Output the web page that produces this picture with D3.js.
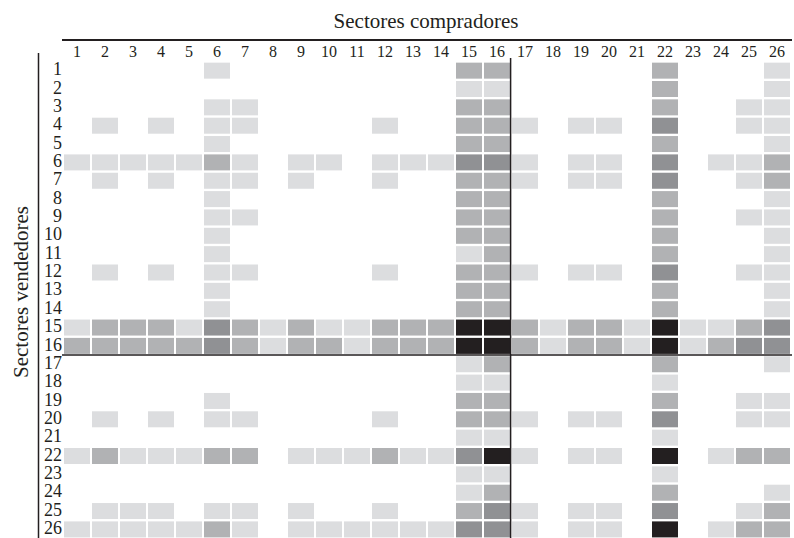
<!DOCTYPE html>
<html>
<head>
<meta charset="utf-8">
<script src="https://cdn.jsdelivr.net/npm/d3@7"></script>
<style>
  html, body { margin: 0; padding: 0; background: #ffffff; }
  svg { display: block; }
  text { font-family: "Liberation Serif", "Times New Roman", serif; fill: #231f20; }
</style>
</head>
<body>
<svg id="chart" width="794" height="538"></svg>
<script>
// Sector labels (1..26)
const sectors = d3.range(1, 27);

// Intensity level of each seller(row) -> buyer(column) flow: 0 none, 1 light, 2 medium, 3 dark, 4 very dark
const flows = [
  [0,0,0,0,0,1,0,0,0,0,0,0,0,0,2,2,0,0,0,0,0,2,0,0,0,1],
  [0,0,0,0,0,0,0,0,0,0,0,0,0,0,1,1,0,0,0,0,0,2,0,0,0,1],
  [0,0,0,0,0,1,1,0,0,0,0,0,0,0,2,2,0,0,0,0,0,2,0,0,1,1],
  [0,1,0,1,0,1,1,0,0,0,0,1,0,0,2,2,1,0,1,1,0,3,0,0,1,1],
  [0,0,0,0,0,1,0,0,0,0,0,0,0,0,2,2,0,0,0,0,0,2,0,0,0,1],
  [1,1,1,1,1,2,1,0,1,1,0,1,1,1,3,3,1,0,1,1,0,3,0,1,1,2],
  [0,1,0,1,0,1,1,0,1,0,0,1,0,0,2,2,1,0,1,1,0,3,0,0,1,2],
  [0,0,0,0,0,1,0,0,0,0,0,0,0,0,2,2,0,0,0,0,0,2,0,0,0,1],
  [0,0,0,0,0,1,1,0,0,0,0,0,0,0,2,2,0,0,0,0,0,2,0,0,1,1],
  [0,0,0,0,0,1,0,0,0,0,0,0,0,0,2,2,0,0,0,0,0,2,0,0,0,1],
  [0,0,0,0,0,1,0,0,0,0,0,0,0,0,1,2,0,0,0,0,0,2,0,0,0,1],
  [0,1,0,1,0,1,1,0,0,0,0,1,0,0,2,2,1,0,1,1,0,3,0,0,1,1],
  [0,0,0,0,0,1,0,0,0,0,0,0,0,0,2,2,0,0,0,0,0,2,0,0,0,1],
  [0,0,0,0,0,1,0,0,0,0,0,0,0,0,2,2,0,0,0,0,0,2,0,0,0,1],
  [1,2,2,2,1,3,2,1,2,1,1,2,2,2,4,4,2,1,2,2,1,4,1,1,2,3],
  [2,2,2,2,2,3,2,1,2,2,1,2,2,2,4,4,2,1,2,2,1,4,1,2,3,3],
  [0,0,0,0,0,0,0,0,0,0,0,0,0,0,1,2,0,0,0,0,0,2,0,0,0,1],
  [0,0,0,0,0,0,0,0,0,0,0,0,0,0,1,1,0,0,0,0,0,1,0,0,0,0],
  [0,0,0,0,0,1,0,0,0,0,0,0,0,0,2,2,0,0,0,0,0,2,0,0,1,1],
  [0,1,0,1,0,1,1,0,0,0,0,1,0,0,2,2,1,0,1,1,0,3,0,0,1,1],
  [0,0,0,0,0,0,0,0,0,0,0,0,0,0,1,1,0,0,0,0,0,1,0,0,0,0],
  [1,2,1,1,1,2,2,0,1,1,1,2,1,1,3,4,1,0,1,1,0,4,0,1,2,2],
  [0,0,0,0,0,0,0,0,0,0,0,0,0,0,1,1,0,0,0,0,0,1,0,0,0,0],
  [0,0,0,0,0,0,0,0,0,0,0,0,0,0,1,2,0,0,0,0,0,2,0,0,0,1],
  [0,1,1,1,0,1,1,0,1,0,0,1,0,0,2,3,1,0,1,1,0,3,0,0,1,2],
  [1,1,1,1,1,2,1,0,1,1,1,1,1,1,3,3,1,0,1,1,0,4,0,1,2,2]
];

const levels = [1, 2, 3, 4];
const shades = ["#dcdddf", "#b1b2b4", "#909194", "#231f20"];

const xTitle = "Sectores compradores";
const yTitle = "Sectores vendedores";

const svg = d3.select("#chart");

const x = d3.scaleBand().domain(sectors).range([63, 791])
  .paddingInner(2 / 28).paddingOuter(1 / 28);
const y = d3.scaleBand().domain(sectors).range([61.475, 538.575])
  .paddingInner(2.35 / 18.35).paddingOuter(1.175 / 18.35);
const color = d3.scaleOrdinal().domain(levels).range(shades);

const cells = [];
flows.forEach((row, i) => row.forEach((v, j) => {
  if (v > 0) cells.push({ seller: sectors[i], buyer: sectors[j], v });
}));

svg.append("g").selectAll("rect").data(cells).join("rect")
  .attr("x", d => x(d.buyer))
  .attr("y", d => y(d.seller))
  .attr("width", x.bandwidth())
  .attr("height", y.bandwidth())
  .attr("fill", d => color(d.v));

// Column (buyer) axis
const xAxis = d3.axisTop(x).tickSize(0).tickPadding(0);
const gx = svg.append("g").attr("transform", "translate(0,56.5)").call(xAxis);
gx.select(".domain").remove();
gx.selectAll("text")
  .attr("dy", 0)
  .style("font-family", "'Liberation Serif', 'Times New Roman', serif")
  .style("font-size", "16px")
  .attr("fill", "#231f20");

// Row (seller) axis
const yAxis = d3.axisLeft(y).tickSize(0).tickPadding(0);
const gy = svg.append("g").attr("transform", "translate(62,-1.5)").call(yAxis);
gy.select(".domain").remove();
gy.selectAll("text")
  .attr("dy", "0.34em")
  .style("font-family", "'Liberation Serif', 'Times New Roman', serif")
  .style("font-size", "18px")
  .attr("fill", "#231f20");

// Frame lines
svg.append("line").attr("x1", 62).attr("x2", 792).attr("y1", 40).attr("y2", 40)
  .attr("stroke", "#231f20").attr("stroke-width", 2);
svg.append("line").attr("x1", 38.5).attr("x2", 38.5).attr("y1", 53).attr("y2", 538)
  .attr("stroke", "#231f20").attr("stroke-width", 1.5);

// Separator lines between sector 16 and 17
const sepX = x(16) + x.bandwidth() + 0.6;
const sepY = y(16) + y.bandwidth() + 1.2;
svg.append("line").attr("x1", sepX).attr("x2", sepX).attr("y1", 58).attr("y2", 538)
  .attr("stroke", "#231f20").attr("stroke-width", 1.5);
svg.append("line").attr("x1", 62).attr("x2", 792).attr("y1", sepY).attr("y2", sepY)
  .attr("stroke", "#231f20").attr("stroke-width", 1.5);

// Titles
svg.append("text").attr("x", 426).attr("y", 28).attr("text-anchor", "middle")
  .style("font-size", "21px").text(xTitle);
svg.append("text").attr("transform", "translate(28,292) rotate(-90)")
  .attr("text-anchor", "middle").style("font-size", "21px").text(yTitle);
</script>
</body>
</html>
